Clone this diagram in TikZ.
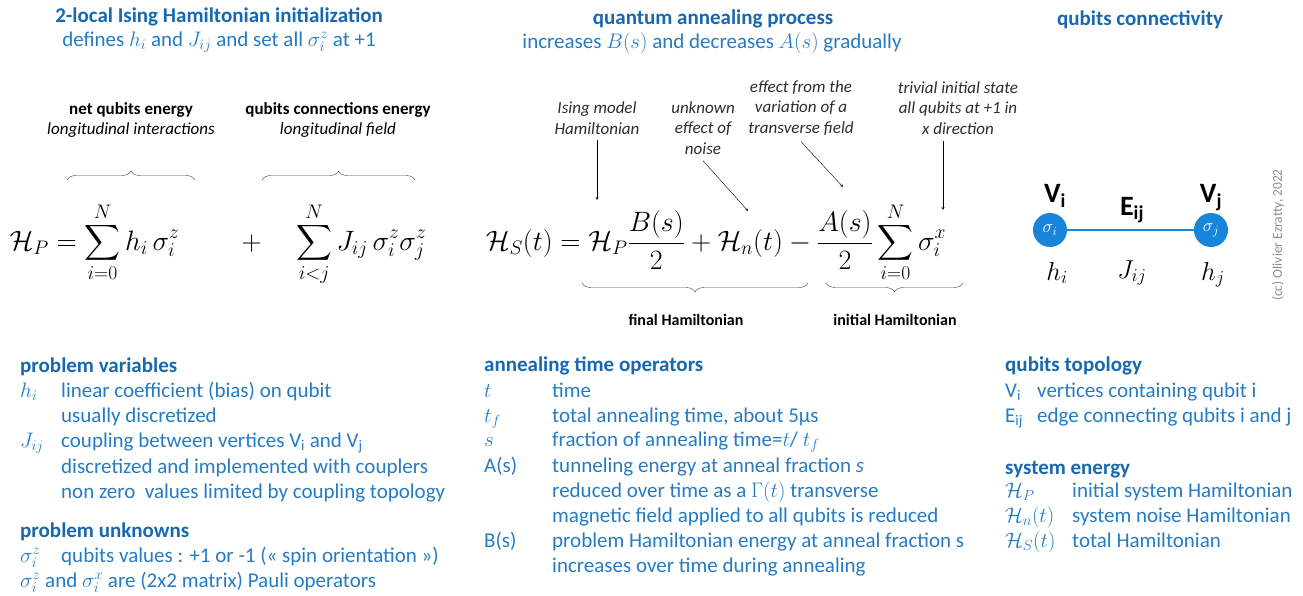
\documentclass[tikz,border=0pt]{standalone}
\usepackage{fix-cm}
\usepackage[no-math]{fontspec}
\setmainfont{Carlito}
\usepackage{amsmath}
\usetikzlibrary{decorations.pathreplacing}
\definecolor{titleblue}{RGB}{24,104,176}
\definecolor{textblue}{RGB}{38,124,196}
\definecolor{qubitblue}{RGB}{24,132,218}
\definecolor{notegray}{RGB}{45,45,45}
\begin{document}
\begin{tikzpicture}[x=1pt, y=-1pt, >=stealth,
  title/.style={inner sep=0pt, font=\fontsize{21}{23}\selectfont\bfseries, text=titleblue},
  subtitle/.style={inner sep=0pt, font=\fontsize{21}{23}\selectfont, text=textblue},
  head/.style={anchor=base west, inner sep=0pt, font=\fontsize{21}{23}\selectfont\bfseries, text=titleblue},
  item/.style={anchor=base west, inner sep=0pt, font=\fontsize{21}{23}\selectfont, text=textblue},
  note/.style={align=center, inner sep=0pt, font=\fontsize{17}{20.5}\selectfont\itshape, text=notegray},
  part/.style={align=center, inner sep=0pt, font=\fontsize{17}{20}\selectfont, text=black},
  eq/.style={anchor=base, inner sep=0pt, font=\fontsize{28}{32}\selectfont},
  diagmath/.style={anchor=base, inner sep=0pt, font=\fontsize{26}{28}\selectfont},
  qubit/.style={circle, fill=qubitblue, minimum size=34pt, inner sep=0pt, text=white, font=\fontsize{18}{18}\selectfont},
  vlabel/.style={anchor=base, inner sep=0pt, font=\fontsize{28}{30}\selectfont\bfseries},
  brc/.style={decorate, decoration={brace, amplitude=9pt}, thin, draw=black!75},
  ptr/.style={->, thin, black}]
\fill[white] (0,0) rectangle (1303,596);
\useasboundingbox (0,0) rectangle (1303,596);

% titles
\node[title] (inittitle) at (219,17) {2-local Ising Hamiltonian initialization};
\node[subtitle] (initsub) at (219,42) {defines $h_i$ and $J_{ij}$ and set all $\sigma_i^z$ at +1};
\node[title] (annealtitle) at (713,19) {quantum annealing process};
\node[subtitle] (annealsub) at (712,43) {increases $B(s)$ and decreases $A(s)$ gradually};
\node[title] (conntitle) at (1140,20) {qubits connectivity};

% problem Hamiltonian
\node[part] (netenergy) at (131,120) {\textbf{net qubits energy}\\\textit{longitudinal interactions}};
\node[part] (connenergy) at (338,120) {\textbf{qubits connections energy}\\\textit{longitudinal field}};
\draw[brc] (67,180) -- (195,180);
\draw[brc] (262,180) -- (415,180);
\node[eq] (hp) at (218,250) {$\displaystyle \mathcal{H}_P = \sum_{i=0}^{N} h_i\,\sigma_i^z \qquad + \quad \sum_{i<j}^{N} J_{ij}\,\sigma_i^z\sigma_j^z$};

% system Hamiltonian
\node[note] (ising) at (597,118) {Ising model\\Hamiltonian};
\node[note] (noise) at (703,128) {unknown\\effect of\\noise};
\node[note] (transverse) at (801,108) {effect from the\\variation of a\\transverse field};
\node[note] (trivial) at (958,108) {trivial initial state\\all qubits at +1 in\\x direction};
\node[eq] (hs) at (716,250) {$\displaystyle \mathcal{H}_S(t) = \mathcal{H}_P\frac{B(s)}{2} + \mathcal{H}_n(t) - \frac{A(s)}{2}\sum_{i=0}^{N}\sigma_i^x$};
\coordinate (hpterm) at (597,200);
\coordinate (hnterm) at (748,211);
\coordinate (aterm) at (843,187);
\coordinate (sigx) at (943,210);
\draw[ptr] ([yshift=-6pt]ising.south) -- (hpterm);
\draw[ptr] ([yshift=-6pt]noise.south) -- (hnterm);
\draw[ptr] ([yshift=-6pt]transverse.south) -- (aterm);
\draw[ptr] ([xshift=-15pt, yshift=-6pt]trivial.south) -- (sigx);
\draw[brc] (808,283) -- (582,283);
\draw[brc] (963,283) -- (826,283);
\node[part, font=\fontsize{16}{20}\selectfont\bfseries] (finalh) at (686,320) {final Hamiltonian};
\node[part, font=\fontsize{16}{20}\selectfont\bfseries] (initialh) at (895,320) {initial Hamiltonian};

% qubits connectivity
\node[qubit] (qi) at (1050,230) {$\sigma_i$};
\node[qubit] (qj) at (1211,230) {$\sigma_j$};
\draw[qubitblue, line width=1.5pt] (qi) -- (qj);
\node[vlabel] (vi) at (1055,203) {V\textsubscript{i}};
\node[vlabel] (vj) at (1211,203) {V\textsubscript{j}};
\node[vlabel] (eij) at (1132,215) {E\textsubscript{ij}};
\node[diagmath] (hi) at (1057,280) {$h_i$};
\node[diagmath] (jij) at (1132,278) {$J_{ij}$};
\node[diagmath] (hj) at (1213,280) {$h_j$};
\node[rotate=90, font=\fontsize{13.5}{14}\selectfont, text=black!45] (credit) at (1278,235) {(cc) Olivier Ezratty, 2022};

% problem variables
\node[head] (pvars) at (20,372) {problem variables};
\node[item] (hsym) at (20,397) {$h_i$};
\node[item] (hdesc) at (61,397) {linear coefficient (bias) on qubit};
\node[item] (hdesc2) at (61,422) {usually discretized};
\node[item] (jsym) at (20,447) {$J_{ij}$};
\node[item] (jdesc) at (61,447) {coupling between vertices V\textsubscript{i} and V\textsubscript{j}};
\node[item] (jdesc2) at (61,473) {discretized and implemented with couplers};
\node[item] (jdesc3) at (61,498) {non zero\ \ values limited by coupling topology};
\node[head] (punk) at (20,537) {problem unknowns};
\node[item] (sigsym) at (20,562) {$\sigma_i^z$};
\node[item] (sigdesc) at (61,562) {qubits values : +1 or -1 (« spin orientation »)};
\node[item] (pauli) at (20,587) {$\sigma_i^z$ and $\sigma_i^x$ are (2x2 matrix) Pauli operators};

% annealing time operators
\node[head] (atime) at (484,371) {annealing time operators};
\node[item] (tsym) at (484,397) {$t$};
\node[item] (tdesc) at (552,397) {time};
\node[item] (tfsym) at (484,422) {$t_f$};
\node[item] (tfdesc) at (552,422) {total annealing time, about 5µs};
\node[item] (ssym) at (484,446) {$s$};
\node[item] (sdesc) at (552,446) {fraction of annealing time=$t$/ $t_f$};
\node[item] (asym) at (484,472) {A(s)};
\node[item] (adesc) at (552,472) {tunneling energy at anneal fraction \textit{s}};
\node[item] (adesc2) at (552,497) {reduced over time as a $\Gamma(t)$ transverse};
\node[item] (adesc3) at (552,522) {magnetic field applied to all qubits is reduced};
\node[item] (bsym) at (484,547) {B(s)};
\node[item] (bdesc) at (552,547) {problem Hamiltonian energy at anneal fraction s};
\node[item] (bdesc2) at (552,572) {increases over time during annealing};

% qubits topology and system energy
\node[head] (topo) at (1005,371) {qubits topology};
\node[item] (visym) at (1005,397) {V\textsubscript{i}};
\node[item] (videsc) at (1037,397) {vertices containing qubit i};
\node[item] (eijsym) at (1005,422) {E\textsubscript{ij}};
\node[item] (eijdesc) at (1037,422) {edge connecting qubits i and j};
\node[head] (senergy) at (1005,474) {system energy};
\node[item] (hpsym) at (1005,497) {$\mathcal{H}_P$};
\node[item] (hpdesc) at (1072,497) {initial system Hamiltonian};
\node[item] (hnsym) at (1005,522) {$\mathcal{H}_n(t)$};
\node[item] (hndesc) at (1072,522) {system noise Hamiltonian};
\node[item] (hssym) at (1005,547) {$\mathcal{H}_S(t)$};
\node[item] (hsdesc) at (1072,547) {total Hamiltonian};
\end{tikzpicture}
\end{document}
